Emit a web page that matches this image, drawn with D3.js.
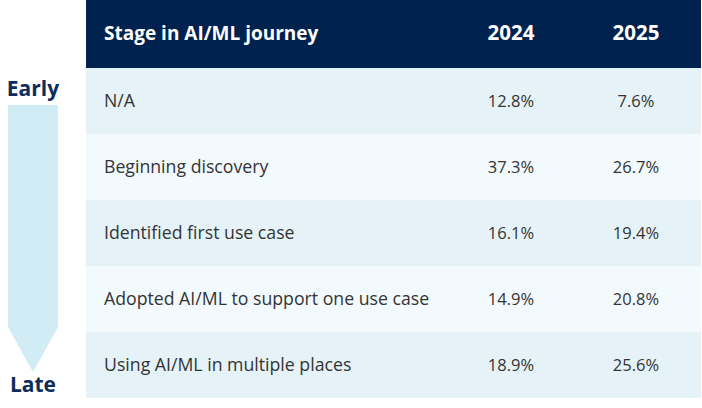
<!DOCTYPE html>
<html>
<head>
<meta charset="utf-8">
<script src="https://cdn.jsdelivr.net/npm/d3@7"></script>
<style>
  html, body { margin: 0; padding: 0; background: #ffffff; }
  svg { display: block; font-family: "Open Sans", "Noto Sans", sans-serif; }
</style>
</head>
<body>
<svg width="702" height="408"></svg>
<script>
// Table contents
const headers = ["Stage in AI/ML journey", "2024", "2025"];
const stages = [
    "N/A",
    "Beginning discovery",
    "Identified first use case",
    "Adopted AI/ML to support one use case",
    "Using AI/ML in multiple places"
];
const values2024 = [12.8, 37.3, 16.1, 14.9, 18.9];
const values2025 = [7.6, 26.7, 19.4, 20.8, 25.6];
const journeyLabels = ["Early", "Late"];

const rows = stages.map((s, i) => ({ stage: s, v2024: values2024[i], v2025: values2025[i] }));

const svg = d3.select("svg");

const tableLeft = 86;
const tableRight = 701;
const headerHeight = 68;
const tableBottom = 398;

// Row positions
const y = d3.scaleBand()
    .domain(d3.range(stages.length))
    .range([headerHeight, tableBottom])
    .padding(0);

// Column centers for the year columns
const colX = d3.scalePoint()
    .domain(["2024", "2025"])
    .range([511, 636]);

// Header bar
svg.append("rect")
    .attr("x", tableLeft)
    .attr("y", 0)
    .attr("width", tableRight - tableLeft)
    .attr("height", headerHeight)
    .attr("fill", "#00224e");

svg.append("text")
    .attr("x", 104)
    .attr("y", headerHeight / 2 + 6)
    .attr("fill", "#ffffff")
    .attr("font-size", 19)
    .attr("font-weight", 700)
    .text(headers[0]);

svg.selectAll("text.year")
    .data(headers.slice(1))
    .enter()
    .append("text")
    .attr("class", "year")
    .attr("x", (d) => colX(d))
    .attr("y", headerHeight / 2 + 6)
    .attr("text-anchor", "middle")
    .attr("fill", "#ffffff")
    .attr("font-size", 20.5)
    .attr("font-weight", 700)
    .text((d) => d);

// Body rows
const row = svg.append("g")
    .selectAll("g")
    .data(rows)
    .enter()
    .append("g")
    .attr("transform", (d, i) => `translate(0, ${y(i)})`);

row.append("rect")
    .attr("x", tableLeft)
    .attr("width", tableRight - tableLeft)
    .attr("height", y.bandwidth())
    .attr("fill", (d, i) => i % 2 === 0 ? "#e5f3f9" : "#f3fafd");

row.append("text")
    .attr("x", 104)
    .attr("y", y.bandwidth() / 2 + 6)
    .attr("fill", "#333333")
    .attr("font-size", 17.7)
    .text((d) => d.stage);

row.append("text")
    .attr("x", colX("2024"))
    .attr("y", y.bandwidth() / 2 + 6)
    .attr("text-anchor", "middle")
    .attr("fill", "#333333")
    .attr("font-size", 16.5)
    .text((d) => d3.format(".1f")(d.v2024) + "%");

row.append("text")
    .attr("x", colX("2025"))
    .attr("y", y.bandwidth() / 2 + 6)
    .attr("text-anchor", "middle")
    .attr("fill", "#333333")
    .attr("font-size", 16.5)
    .text((d) => d3.format(".1f")(d.v2025) + "%");

// Journey arrow on the left
const arrowLeft = 8, arrowRight = 58, arrowTop = 105, arrowShoulder = 327, arrowTip = 372;
const arrowMid = (arrowLeft + arrowRight) / 2;
svg.append("path")
    .attr("d", d3.line()([
        [arrowLeft, arrowTop],
        [arrowRight, arrowTop],
        [arrowRight, arrowShoulder],
        [arrowMid, arrowTip],
        [arrowLeft, arrowShoulder]
    ]) + "Z")
    .attr("fill", "#d1ecf5");

svg.selectAll("text.journey")
    .data(journeyLabels)
    .enter()
    .append("text")
    .attr("class", "journey")
    .attr("x", arrowMid)
    .attr("y", (d, i) => i === 0 ? 96 : 392)
    .attr("text-anchor", "middle")
    .attr("fill", "#0e2d5c")
    .attr("font-size", 21)
    .attr("font-weight", 700)
    .text((d) => d);
</script>
</body>
</html>
